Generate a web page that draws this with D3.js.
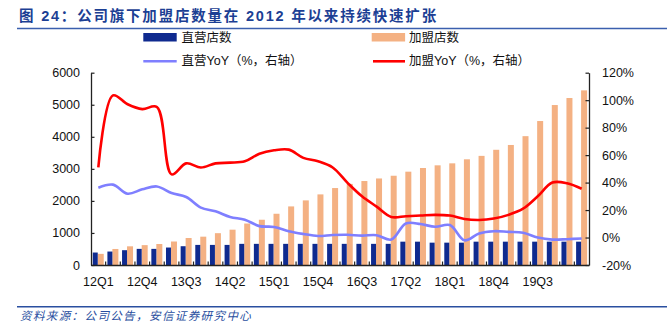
<!DOCTYPE html>
<html><head><meta charset="utf-8">
<script src="https://cdn.jsdelivr.net/npm/d3@7"></script>
<style>
html,body{margin:0;padding:0;background:#fff;}
svg{display:block;}
text{font-family:"Liberation Sans","Noto Sans CJK SC",Arial,sans-serif;}
.cjk{font-family:"Liberation Sans","Noto Sans CJK SC",sans-serif;}
</style></head>
<body>
<svg id="c" width="667" height="336"></svg>
<script>
const quarters = ["12Q1","12Q2","12Q3","12Q4","13Q1","13Q2","13Q3","13Q4","14Q1","14Q2","14Q3","14Q4",
"15Q1","15Q2","15Q3","15Q4","16Q1","16Q2","16Q3","16Q4","17Q1","17Q2","17Q3","17Q4",
"18Q1","18Q2","18Q3","18Q4","19Q1","19Q2","19Q3","19Q4","20Q1","20Q2"];
const directStores = [389,420,462,503,503,545,586,627,627,627,660,660,660,660,660,660,660,660,660,660,660,728,728,697,697,697,728,728,728,728,728,728,728,728];
const franchiseStores = [348,500,583,620,655,733,842,884,993,1102,1294,1412,1599,1828,2016,2203,2401,2530,2620,2700,2785,2912,3026,3110,3172,3298,3405,3595,3745,4020,4492,4991,5210,5449];
const directYoY = [36.3,38.5,31.9,35.1,37.2,32.4,29.5,21.8,19.1,15.0,13.0,8.3,7.7,4.6,2.6,1.1,1.8,2.0,1.4,1.7,-1.5,10.2,9.8,7.8,9.1,-2.0,3.0,4.6,4.1,3.5,0,-1.5,-1.2,-0.7];
const franchiseYoY = [51,103.5,97,93.5,95,46,54,51,54,54.5,55.5,61,63.5,64,58,55.5,51,40,30,22.5,15,15.5,16,16.5,16,13.5,12.8,13.8,16.5,21,30,40,39.5,35.5];
const leftTicks = [0,1000,2000,3000,4000,5000,6000];
const rightTicks = [-20,0,20,40,60,80,100,120];
const xLabels = ["12Q1","12Q4","13Q3","14Q2","15Q1","15Q4","16Q3","17Q2","18Q1","18Q4","19Q3"];
const titleText = "图 24：公司旗下加盟店数量在 2012 年以来持续快速扩张";
const sourceText = "资料来源：公司公告，安信证券研究中心";
const legendItems = ["直营店数","加盟店数","直营YoY（%，右轴）","加盟YoY（%，右轴）"];

const svg = d3.select("#c");
const L=91, R=589, T=72.7, B=265;
const x = d3.scaleBand().domain(quarters).range([L,R]);
const yL = d3.scaleLinear().domain([0,6000]).range([B,T]);
const yR = d3.scaleLinear().domain([-20,120]).range([B,T]);
const bw = x.bandwidth();

// title
svg.append("text").attr("x",19).attr("y",21).attr("fill","#1c3f94")
  .attr("font-weight","bold").attr("font-size",14.5).attr("letter-spacing",1.8)
  .attr("class","cjk").text(titleText);
svg.append("line").attr("x1",17).attr("x2",667).attr("y1",28.5).attr("y2",28.5)
  .attr("stroke","#3b5fae").attr("stroke-width",1.6);

// legend
const navy="#0f2a8f", peach="#f4b183", lav="#7f7fff", red="#ff0000";
svg.append("rect").attr("x",143.3).attr("y",33).attr("width",33.4).attr("height",8.5).attr("fill",navy);
svg.append("rect").attr("x",371.7).attr("y",33).attr("width",33.4).attr("height",8.5).attr("fill",peach);
svg.append("line").attr("x1",143.3).attr("x2",176.7).attr("y1",61.3).attr("y2",61.3).attr("stroke",lav).attr("stroke-width",2.6);
svg.append("line").attr("x1",373).attr("x2",405).attr("y1",61.3).attr("y2",61.3).attr("stroke",red).attr("stroke-width",2.6);
[[181.5,37.5,0],[409,37.5,1],[181.5,61.3,2],[409,61.3,3]].forEach(([lx,ly,k])=>{
  svg.append("text").attr("x",lx).attr("y",ly).attr("dominant-baseline","central")
    .attr("font-size",12.5).attr("fill","#111").text(legendItems[k]);
});

// bars
svg.append("g").selectAll("rect").data(quarters).join("rect")
  .attr("x",d=>x(d)+bw*0.46).attr("width",bw*0.41)
  .attr("y",(d,i)=>yL(franchiseStores[i])).attr("height",(d,i)=>B-yL(franchiseStores[i]))
  .attr("fill",peach);
svg.append("g").selectAll("rect").data(quarters).join("rect")
  .attr("x",d=>x(d)+bw*0.12).attr("width",bw*0.34)
  .attr("y",(d,i)=>yL(directStores[i])).attr("height",(d,i)=>B-yL(directStores[i]))
  .attr("fill",navy);

// lines
const cx = d=>x(d)+bw/2;
const lineD = d3.line().x((d,i)=>cx(quarters[i])).y(d=>yR(d)).curve(d3.curveCatmullRom.alpha(0.5));
svg.append("path").attr("d",lineD(directYoY)).attr("fill","none").attr("stroke",lav).attr("stroke-width",2.6);
svg.append("path").attr("d",lineD(franchiseYoY)).attr("fill","none").attr("stroke",red).attr("stroke-width",2.6);

// axes
const axColor="#222";
const gL = svg.append("g").attr("transform",`translate(${L},0)`)
  .call(d3.axisLeft(yL).tickValues(leftTicks).tickSizeInner(-3.5).tickSizeOuter(0).tickPadding(11).tickFormat(d3.format("d")));
const gR = svg.append("g").attr("transform",`translate(${R},0)`)
  .call(d3.axisRight(yR).tickValues(rightTicks).tickSizeInner(-3.5).tickSizeOuter(0).tickPadding(13).tickFormat(d=>d+"%"));
const gX = svg.append("g").attr("transform",`translate(0,${B})`)
  .call(d3.axisBottom(x).tickValues(xLabels).tickSize(0).tickPadding(12));
gX.selectAll(".tick line").remove();
// inward x ticks at band boundaries
svg.append("g").selectAll("line").data(quarters.slice(1)).join("line")
  .attr("x1",d=>x(d)).attr("x2",d=>x(d)).attr("y1",B).attr("y2",B-3.5)
  .attr("stroke",axColor).attr("stroke-width",1.2);
[gL,gR,gX].forEach(g=>{
  g.selectAll("path.domain").attr("stroke",axColor).attr("stroke-width",1.3);
  g.selectAll(".tick line").attr("stroke",axColor).attr("stroke-width",1.2);
  g.selectAll("text").attr("font-size",12.5).attr("fill","#111")
    .attr("font-family","'Liberation Sans',Arial,sans-serif");
});

// source
svg.append("line").attr("x1",17).attr("x2",667).attr("y1",306.7).attr("y2",306.7)
  .attr("stroke","#2a4fa0").attr("stroke-width",1.4);
svg.append("text").attr("x",20).attr("y",320).attr("font-size",11.5).attr("letter-spacing",1.4)
  .attr("font-style","italic").attr("fill","#2a4fa0").attr("class","cjk").text(sourceText);
</script>
</body></html>
